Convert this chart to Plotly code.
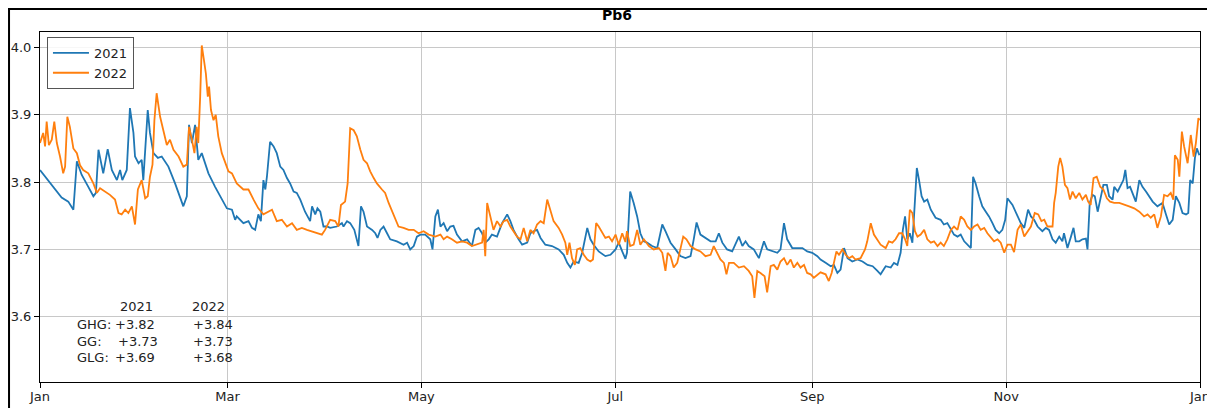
import pandas as pd
import plotly.graph_objects as go

# ---- data (day offset from 1 Jan, value) ----
days_2021 = [0.0, 2.5, 4.7, 6.8, 8.9, 10.5, 11.6, 13.1, 15.2, 16.8, 17.6, 18.4, 19.9, 21.3, 22.6, 24.2, 25.2, 25.9, 27.3, 28.3,
             29.4, 29.9, 31.0, 32.0, 32.5, 33.9, 34.6, 35.7, 37.1, 38.3, 40.4, 42.5, 45.1, 46.2, 46.9, 47.8, 48.8, 49.8, 50.9, 53.0,
             55.1, 57.2, 58.8, 60.4, 61.4, 61.9, 64.0, 65.6, 66.7, 67.7, 68.7, 69.5, 70.3, 70.9, 71.4, 72.4, 73.5, 74.5, 75.6, 76.6,
             77.7, 78.7, 79.8, 80.8, 81.9, 83.4, 85.0, 85.6, 86.6, 87.3, 88.2, 89.2, 90.3, 91.3, 93.4, 95.0, 95.5, 96.6, 97.6, 98.9,
             100.2, 101.0, 101.8, 102.9, 104.5, 105.5, 106.2, 107.1, 108.1, 109.2, 110.2, 112.3, 114.4, 115.5, 116.5, 117.6, 118.6, 119.7, 121.2, 122.8,
             123.5, 124.4, 125.2, 126.0, 127.0, 128.1, 129.1, 130.1, 131.2, 132.8, 134.4, 135.9, 137.0, 138.0, 139.1, 140.1, 141.2, 142.2, 143.8, 145.4,
             147.0, 148.0, 149.0, 150.6, 151.7, 153.3, 154.3, 155.3, 156.4, 157.5, 159.0, 161.1, 163.2, 164.8, 165.9, 166.9, 167.9, 169.5, 170.6, 172.2,
             173.2, 174.2, 175.8, 177.9, 179.5, 181.1, 182.1, 183.2, 184.2, 184.7, 185.7, 186.8, 187.9, 188.9, 190.0, 191.0, 192.6, 194.2, 195.8, 196.8,
             198.4, 200.0, 201.5, 203.1, 204.7, 205.7, 206.6, 207.8, 209.4, 211.0, 212.6, 213.6, 214.7, 216.2, 217.8, 218.9, 219.9, 221.0, 222.0, 223.0,
             224.6, 226.2, 227.8, 228.8, 230.4, 232.0, 233.0, 234.1, 235.1, 236.7, 238.3, 239.9, 241.4, 243.0, 244.6, 245.6, 247.2, 248.8, 249.8, 250.9,
             251.9, 253.0, 254.1, 255.6, 257.2, 258.8, 260.4, 262.0, 263.5, 264.5, 266.1, 267.7, 268.7, 269.8, 270.8, 271.5, 272.2, 272.9, 273.7, 274.5,
             275.2, 275.9, 276.6, 277.4, 278.2, 279.2, 280.3, 281.8, 283.4, 284.4, 285.5, 286.6, 287.6, 288.7, 289.7, 290.8, 291.8, 292.9, 293.6, 294.4,
             295.5, 296.5, 297.6, 298.6, 299.7, 300.7, 301.8, 302.8, 303.7, 304.4, 306.0, 307.6, 308.6, 309.7, 310.9, 311.8, 312.8, 313.9, 315.4, 316.5,
             317.5, 318.6, 319.6, 320.7, 321.7, 322.2, 323.3, 324.4, 325.2, 325.9, 327.0, 328.0, 329.1, 329.6, 330.3, 331.2, 331.9, 332.8, 333.8, 334.6,
             335.7, 336.4, 337.5, 338.0, 339.1, 340.1, 340.9, 341.5, 342.2, 343.0, 343.8, 344.8, 345.9, 346.9, 348.0, 349.0, 350.1, 351.6, 353.2, 354.3,
             355.3, 356.4, 357.4, 358.5, 359.5, 360.6, 361.3, 361.9, 362.7, 363.4, 364.0, 364.8]
vals_2021 = [3.818, 3.803, 3.788, 3.777, 3.771, 3.759, 3.831, 3.811, 3.793, 3.779, 3.784, 3.848, 3.813, 3.849, 3.818, 3.803, 3.818, 3.803, 3.818, 3.910,
             3.873, 3.838, 3.828, 3.833, 3.803, 3.907, 3.873, 3.843, 3.836, 3.838, 3.823, 3.798, 3.764, 3.779, 3.885, 3.858, 3.885, 3.833, 3.843, 3.813,
             3.793, 3.774, 3.761, 3.759, 3.744, 3.749, 3.739, 3.742, 3.732, 3.729, 3.752, 3.742, 3.803, 3.789, 3.808, 3.860, 3.853, 3.843, 3.823, 3.818,
             3.806, 3.798, 3.786, 3.784, 3.774, 3.756, 3.742, 3.764, 3.752, 3.761, 3.756, 3.734, 3.734, 3.732, 3.734, 3.739, 3.734, 3.742, 3.739, 3.729,
             3.705, 3.764, 3.756, 3.734, 3.729, 3.724, 3.717, 3.729, 3.734, 3.724, 3.715, 3.712, 3.707, 3.710, 3.700, 3.705, 3.719, 3.722, 3.722, 3.715,
             3.700, 3.749, 3.759, 3.734, 3.739, 3.727, 3.734, 3.735, 3.722, 3.712, 3.715, 3.705, 3.729, 3.732, 3.724, 3.710, 3.715, 3.722, 3.719, 3.739,
             3.752, 3.742, 3.729, 3.715, 3.707, 3.710, 3.724, 3.727, 3.729, 3.717, 3.707, 3.705, 3.700, 3.692, 3.680, 3.673, 3.682, 3.680, 3.695, 3.732,
             3.715, 3.707, 3.697, 3.690, 3.692, 3.700, 3.710, 3.697, 3.686, 3.695, 3.786, 3.769, 3.749, 3.724, 3.712, 3.710, 3.705, 3.702, 3.737, 3.727,
             3.710, 3.700, 3.690, 3.687, 3.690, 3.715, 3.740, 3.722, 3.717, 3.712, 3.712, 3.724, 3.710, 3.700, 3.697, 3.710, 3.719, 3.705, 3.712, 3.705,
             3.700, 3.687, 3.712, 3.700, 3.697, 3.695, 3.700, 3.739, 3.715, 3.702, 3.702, 3.702, 3.697, 3.695, 3.690, 3.685, 3.680, 3.675, 3.677, 3.665,
             3.670, 3.702, 3.687, 3.682, 3.685, 3.682, 3.677, 3.675, 3.668, 3.663, 3.675, 3.673, 3.680, 3.677, 3.695, 3.729, 3.749, 3.715, 3.724, 3.710,
             3.764, 3.821, 3.803, 3.779, 3.771, 3.774, 3.759, 3.747, 3.744, 3.737, 3.739, 3.729, 3.722, 3.719, 3.722, 3.712, 3.707, 3.702, 3.808, 3.798,
             3.779, 3.764, 3.756, 3.749, 3.739, 3.729, 3.724, 3.729, 3.744, 3.776, 3.766, 3.749, 3.739, 3.732, 3.759, 3.749, 3.744, 3.734, 3.727, 3.732,
             3.729, 3.715, 3.710, 3.719, 3.712, 3.724, 3.702, 3.719, 3.732, 3.712, 3.712, 3.715, 3.716, 3.700, 3.769, 3.781, 3.779, 3.756, 3.776, 3.796,
             3.796, 3.779, 3.774, 3.793, 3.786, 3.796, 3.803, 3.818, 3.791, 3.793, 3.784, 3.771, 3.803, 3.793, 3.786, 3.779, 3.771, 3.764, 3.769, 3.752,
             3.737, 3.744, 3.779, 3.769, 3.754, 3.752, 3.754, 3.803, 3.798, 3.836, 3.850, 3.840]

days_2022 = [0.0, 1.0, 1.6, 2.1, 2.8, 3.7, 4.5, 5.3, 6.3, 7.3, 7.9, 8.6, 9.4, 10.5, 11.6, 12.6, 13.6, 15.2, 16.8, 17.9,
             18.9, 20.5, 22.0, 23.6, 24.7, 25.7, 26.8, 27.8, 28.9, 29.9, 30.8, 32.0, 33.1, 33.9, 34.6, 35.4, 36.0, 36.7, 37.8, 38.8,
             39.9, 40.9, 42.0, 43.6, 45.1, 46.2, 46.9, 47.8, 48.6, 49.3, 49.8, 50.4, 50.9, 51.6, 52.2, 52.8, 53.2, 53.8, 54.6, 55.3,
             56.1, 57.2, 58.3, 59.3, 60.4, 61.9, 64.0, 65.6, 67.2, 68.7, 70.3, 71.9, 73.0, 74.5, 76.1, 77.7, 79.3, 80.8, 82.4, 84.0,
             85.6, 87.1, 88.7, 89.7, 91.3, 92.9, 93.9, 94.7, 96.0, 96.8, 97.6, 98.7, 99.7, 100.8, 101.8, 102.9, 103.9, 105.0, 106.0, 107.6,
             108.6, 109.7, 110.8, 111.8, 112.8, 114.4, 116.0, 117.6, 119.1, 120.7, 122.3, 124.4, 126.0, 127.0, 128.1, 129.6, 131.2, 132.8, 134.4, 135.9,
             137.5, 139.1, 139.6, 140.1, 140.7, 141.7, 142.7, 143.8, 144.9, 145.9, 147.0, 148.0, 149.0, 150.1, 151.2, 152.2, 153.3, 154.3, 155.3, 156.4,
             157.5, 158.5, 159.6, 160.6, 161.6, 163.2, 164.3, 165.3, 165.9, 166.6, 167.4, 168.3, 169.0, 170.0, 171.1, 172.2, 173.2, 174.0, 175.0, 175.8,
             176.9, 177.9, 179.0, 180.0, 181.1, 182.1, 183.2, 184.2, 184.7, 185.7, 186.8, 187.9, 188.9, 190.0, 191.6, 193.1, 194.7, 195.8, 196.8, 197.5,
             198.4, 199.4, 200.5, 201.5, 202.4, 203.4, 204.7, 206.3, 207.8, 209.4, 211.0, 212.0, 213.1, 214.1, 215.2, 216.0, 216.8, 218.3, 219.9, 221.5,
             223.0, 224.1, 224.8, 225.7, 226.7, 228.0, 228.8, 229.9, 230.9, 232.0, 233.0, 234.1, 235.1, 236.2, 237.2, 238.3, 239.3, 240.4, 241.4, 242.5,
             243.5, 244.6, 245.6, 247.2, 248.2, 249.1, 249.8, 250.6, 251.4, 252.5, 253.5, 254.6, 255.6, 256.6, 258.2, 259.6, 260.3, 261.4, 262.4, 263.5,
             264.5, 266.1, 267.1, 268.2, 269.2, 270.3, 271.3, 272.2, 272.9, 273.7, 274.5, 275.3, 276.1, 277.1, 278.2, 279.2, 280.3, 281.3, 282.4, 283.4,
             284.4, 285.5, 286.6, 287.6, 288.7, 289.7, 290.8, 291.8, 292.9, 293.9, 295.0, 296.0, 297.1, 298.1, 299.2, 300.2, 301.3, 302.3, 303.4, 304.4,
             305.5, 306.5, 307.6, 308.6, 309.7, 310.7, 311.8, 313.0, 314.1, 315.1, 316.0, 317.0, 318.6, 319.1, 319.6, 320.4, 321.0, 321.7, 322.5, 323.3,
             324.1, 324.9, 325.9, 327.0, 328.0, 329.1, 329.8, 330.6, 331.5, 332.5, 333.6, 334.6, 335.7, 336.7, 338.0, 339.6, 341.1, 342.7, 344.3, 345.9,
             347.4, 348.5, 349.5, 350.6, 351.6, 352.7, 353.7, 354.8, 355.8, 356.6, 357.1, 358.0, 358.5, 359.3, 360.0, 361.1, 362.1, 363.0, 363.7, 364.5,
             364.9]
vals_2022 = [3.858, 3.873, 3.853, 3.890, 3.855, 3.863, 3.890, 3.858, 3.838, 3.813, 3.823, 3.897, 3.882, 3.850, 3.843, 3.825, 3.818, 3.813, 3.798, 3.784,
             3.791, 3.786, 3.781, 3.774, 3.754, 3.752, 3.759, 3.754, 3.764, 3.737, 3.789, 3.803, 3.776, 3.779, 3.808, 3.826, 3.892, 3.932, 3.897, 3.877,
             3.855, 3.863, 3.848, 3.838, 3.823, 3.826, 3.882, 3.863, 3.843, 3.882, 3.858, 3.927, 4.003, 3.981, 3.961, 3.927, 3.942, 3.907, 3.892, 3.900,
             3.868, 3.843, 3.828, 3.816, 3.813, 3.798, 3.789, 3.789, 3.774, 3.761, 3.752, 3.756, 3.759, 3.742, 3.744, 3.734, 3.739, 3.729, 3.732, 3.729,
             3.727, 3.724, 3.722, 3.729, 3.744, 3.742, 3.734, 3.766, 3.771, 3.798, 3.880, 3.877, 3.868, 3.848, 3.833, 3.828, 3.816, 3.806, 3.798, 3.789,
             3.784, 3.769, 3.756, 3.744, 3.734, 3.732, 3.729, 3.729, 3.724, 3.727, 3.722, 3.719, 3.722, 3.715, 3.719, 3.715, 3.710, 3.712, 3.710, 3.705,
             3.707, 3.710, 3.729, 3.690, 3.769, 3.749, 3.729, 3.742, 3.734, 3.742, 3.744, 3.734, 3.727, 3.719, 3.715, 3.732, 3.712, 3.729, 3.724, 3.737,
             3.742, 3.739, 3.774, 3.756, 3.742, 3.732, 3.722, 3.710, 3.692, 3.710, 3.687, 3.677, 3.700, 3.702, 3.692, 3.685, 3.682, 3.685, 3.739, 3.734,
             3.724, 3.717, 3.719, 3.712, 3.722, 3.707, 3.724, 3.711, 3.727, 3.705, 3.707, 3.729, 3.707, 3.715, 3.705, 3.700, 3.702, 3.695, 3.668, 3.695,
             3.690, 3.673, 3.680, 3.700, 3.719, 3.715, 3.705, 3.700, 3.697, 3.690, 3.692, 3.705, 3.695, 3.685, 3.680, 3.663, 3.680, 3.680, 3.673, 3.675,
             3.668, 3.660, 3.628, 3.668, 3.665, 3.660, 3.636, 3.675, 3.677, 3.670, 3.682, 3.687, 3.677, 3.685, 3.673, 3.680, 3.673, 3.677, 3.665, 3.663,
             3.658, 3.663, 3.666, 3.663, 3.653, 3.665, 3.680, 3.697, 3.692, 3.700, 3.692, 3.687, 3.690, 3.685, 3.687, 3.700, 3.712, 3.739, 3.722, 3.715,
             3.707, 3.702, 3.712, 3.710, 3.715, 3.724, 3.724, 3.715, 3.705, 3.759, 3.754, 3.727, 3.719, 3.722, 3.729, 3.715, 3.710, 3.712, 3.705, 3.710,
             3.705, 3.715, 3.729, 3.734, 3.729, 3.749, 3.744, 3.734, 3.729, 3.734, 3.737, 3.729, 3.732, 3.724, 3.717, 3.712, 3.715, 3.710, 3.695, 3.707,
             3.707, 3.696, 3.729, 3.737, 3.719, 3.727, 3.734, 3.754, 3.752, 3.742, 3.744, 3.734, 3.734, 3.769, 3.784, 3.823, 3.836, 3.823, 3.796, 3.791,
             3.774, 3.786, 3.776, 3.784, 3.774, 3.781, 3.771, 3.766, 3.806, 3.808, 3.793, 3.789, 3.776, 3.771, 3.769, 3.769, 3.766, 3.764, 3.761, 3.756,
             3.749, 3.752, 3.747, 3.752, 3.732, 3.749, 3.781, 3.779, 3.784, 3.774, 3.840, 3.833, 3.808, 3.875, 3.853, 3.828, 3.870, 3.838, 3.858, 3.895,
             3.892]

series_names = ["2021", "2022"]
series_colors = ["#1f77b4", "#ff7f0e"]

stat_labels = ["GHG:", "GG:", "GLG:"]
stats_2021 = ["+3.82", "+3.73", "+3.69"]
stats_2022 = ["+3.84", "+3.73", "+3.68"]

month_ticks = ["2021-01-01", "2021-03-01", "2021-05-01", "2021-07-01", "2021-09-01", "2021-11-01", "2022-01-01"]
month_labels = ["Jan", "Mar", "May", "Jul", "Sep", "Nov", "Jan"]

base = pd.Timestamp("2021-01-01")


def to_dates(days):
    return base + pd.to_timedelta(days, unit="D")


FONT = "DejaVu Sans"
fig = go.Figure()
for name, d, v, c in zip(series_names, [days_2021, days_2022], [vals_2021, vals_2022], series_colors):
    fig.add_trace(go.Scatter(x=to_dates(d), y=v, mode="lines", name=name,
                             line=dict(color=c, width=1.8)))

axis_common = dict(showline=True, linecolor="black", linewidth=1, mirror=True,
                   ticks="outside", ticklen=5, tickcolor="black", automargin=False,
                   showgrid=True, gridcolor="#c8c8c8", gridwidth=1,
                   tickfont=dict(family=FONT, size=13, color="#222"), zeroline=False)

fig.update_xaxes(type="date", range=["2021-01-01", "2022-01-01"],
                 tickvals=month_ticks, ticktext=month_labels, ticklabelstandoff=-3, **axis_common)
fig.update_yaxes(range=[3.503, 4.023], tickvals=[3.6, 3.7, 3.8, 3.9, 4.0],
                 tickformat=".1f", **axis_common)

# statistics table text
rows_y = [0.164, 0.117, 0.069]
fig.add_annotation(x=0.0672, y=0.2154, xref="paper", yref="paper", text=series_names[0],
                   showarrow=False, xanchor="left", yanchor="middle",
                   font=dict(family=FONT, size=13, color="#222"))
fig.add_annotation(x=0.1293, y=0.2154, xref="paper", yref="paper", text=series_names[1],
                   showarrow=False, xanchor="left", yanchor="middle",
                   font=dict(family=FONT, size=13, color="#222"))
for lab, a, b, yy in zip(stat_labels, stats_2021, stats_2022, rows_y):
    fig.add_annotation(x=0.0302, y=yy, xref="paper", yref="paper", text=lab,
                       showarrow=False, xanchor="left", yanchor="middle",
                       font=dict(family=FONT, size=13, color="#222"))
    fig.add_annotation(x=0.0625 if lab != "GG:" else 0.0655, y=yy, xref="paper", yref="paper", text=a,
                       showarrow=False, xanchor="left", yanchor="middle",
                       font=dict(family=FONT, size=13, color="#222"))
    fig.add_annotation(x=0.1305, y=yy, xref="paper", yref="paper", text=b,
                       showarrow=False, xanchor="left", yanchor="middle",
                       font=dict(family=FONT, size=13, color="#222"))

# outer image border
fig.add_shape(type="rect", xref="paper", yref="paper",
              x0=-0.0267, x1=1.0078, y0=-0.3, y1=1.0656,
              line=dict(color="black", width=2), fillcolor="rgba(0,0,0,0)", layer="above")

fig.update_layout(
    width=1207, height=400,
    margin=dict(l=32, r=15, t=24, b=25.5, autoexpand=False),
    paper_bgcolor="white", plot_bgcolor="white",
    title=dict(text="<b>Pb6</b>", x=0.5046, xanchor="center", y=0.9825, yanchor="middle",
               font=dict(family=FONT, size=14, color="black"), automargin=False),
    showlegend=True,
    legend=dict(x=0.006, y=0.986, xanchor="left", yanchor="top",
                bgcolor="rgba(255,255,255,0.85)", bordercolor="#555", borderwidth=1,
                font=dict(family=FONT, size=13, color="#222"), itemwidth=36,
                tracegroupgap=0),
    font=dict(family=FONT),
)

fig.write_html("out.html")
